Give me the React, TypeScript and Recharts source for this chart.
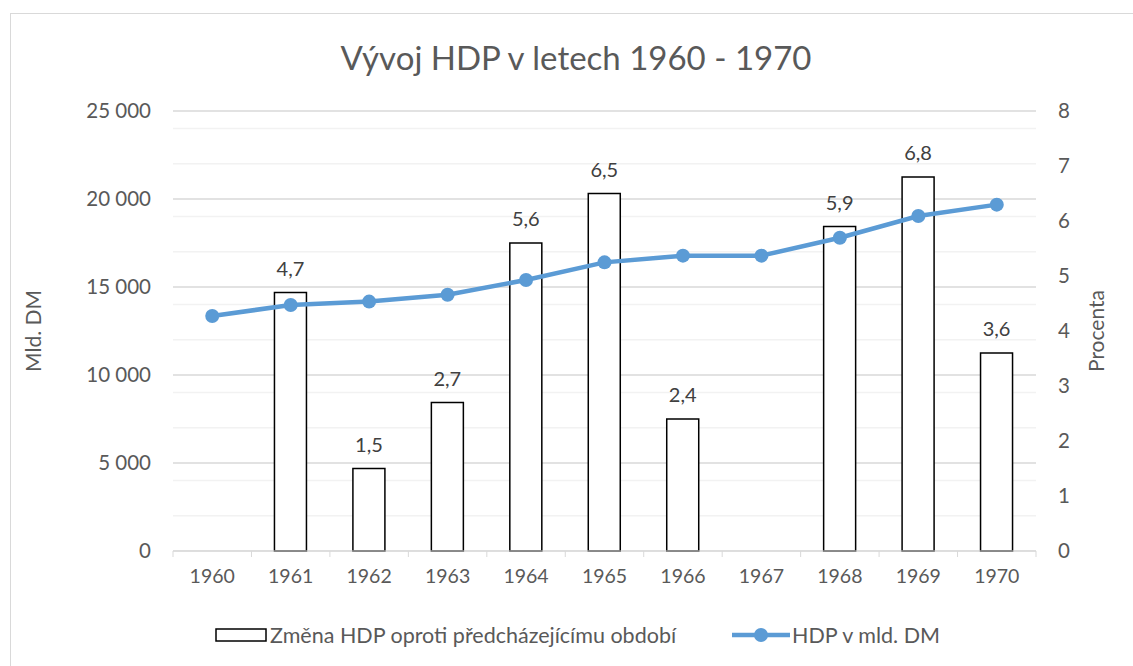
import React from 'react';
import {
  ComposedChart,
  Bar,
  Line,
  XAxis,
  YAxis,
  CartesianGrid,
  LabelList,
  Legend,
} from 'recharts';

const years = ['1960', '1961', '1962', '1963', '1964', '1965', '1966', '1967', '1968', '1969', '1970'];
// Změna HDP v procentech (pravá osa)
const change = [null, 4.7, 1.5, 2.7, 5.6, 6.5, 2.4, null, 5.9, 6.8, 3.6];
// HDP v mld. DM (levá osa)
const gdp = [13350, 13980, 14170, 14560, 15400, 16400, 16780, 16780, 17800, 19030, 19680];

const leftTicks = [0, 5000, 10000, 15000, 20000, 25000];
const rightTicks = [0, 1, 2, 3, 4, 5, 6, 7, 8];
const minorLines = [1000, 2000, 3000, 4000, 6000, 7000, 8000, 9000, 11000, 12000, 13000, 14000, 16000, 17000, 18000, 19000, 21000, 22000, 23000, 24000];
const majorLines = [0, 5000, 10000, 15000, 20000, 25000];

const data = years.map((y, i) => ({ year: y, change: change[i], gdp: gdp[i] }));

const FONT = 'Lato, "Noto Sans", sans-serif';
const TEXT = '#595959';
const BLUE = '#5B9BD5';

const fmtThousands = (v: number) =>
  String(v).replace(/\B(?=(\d{3})+(?!\d))/g, ' ');

const YearTick = (props: any) => {
  const { x, y, payload, index } = props;
  const off = payload.offset || 0;
  return (
    <g>
      <line x1={x - off} y1={y - 8} x2={x - off} y2={y - 2} stroke="#d9d9d9" />
      {index === years.length - 1 && (
        <line x1={x + off} y1={y - 8} x2={x + off} y2={y - 2} stroke="#d9d9d9" />
      )}
      <text x={x} y={y + 24} textAnchor="middle" fill={TEXT} fontSize={19.5} fontFamily={FONT}>
        {payload.value}
      </text>
    </g>
  );
};

const LegendContent = () => (
  <div
    style={{
      display: 'flex',
      justifyContent: 'center',
      alignItems: 'center',
      fontFamily: FONT,
      fontSize: 21.5,
      color: TEXT,
      paddingLeft: 22,
    }}
  >
    <svg width={52} height={14} style={{ marginRight: 3 }}>
      <rect x={1} y={1} width={50} height={12} fill="#fff" stroke="#000" strokeWidth={1.5} />
    </svg>
    <span>Změna HDP oproti předcházejícímu období</span>
    <svg width={58} height={16} style={{ marginLeft: 56, marginRight: 2 }}>
      <line x1={0} y1={8} x2={58} y2={8} stroke={BLUE} strokeWidth={4.5} />
      <circle cx={29} cy={8} r={7} fill={BLUE} />
    </svg>
    <span>HDP v mld. DM</span>
  </div>
);

export default function App() {
  return (
    <div style={{ position: 'absolute', left: 0, top: 0, width: 1133, height: 666, background: '#fff', overflow: 'hidden' }}>
      <div
        style={{
          position: 'absolute',
          left: 10,
          top: 13,
          width: 1140,
          height: 670,
          border: '1.5px solid #d9d9d9',
        }}
      />
      <div
        style={{
          position: 'absolute',
          left: 0,
          top: 37,
          width: 1152,
          textAlign: 'center',
          fontFamily: FONT,
          fontSize: 33,
          color: TEXT,
        }}
      >
        Vývoj HDP v letech 1960 - 1970
      </div>
      <div style={{ position: 'absolute', left: 0, top: 0 }}>
        <ComposedChart
          width={1133}
          height={666}
          data={data}
          margin={{ top: 111, right: 0, left: 0, bottom: 10 }}
        >
          <CartesianGrid
            yAxisId="left"
            vertical={false}
            horizontalValues={minorLines}
            stroke="#f2f2f2"
            strokeWidth={1.5}
          />
          <CartesianGrid
            yAxisId="left"
            vertical={false}
            horizontalValues={majorLines}
            stroke="#d9d9d9"
            strokeWidth={1.5}
          />
          <XAxis
            dataKey="year"
            height={79}
            stroke="#d9d9d9"
            tickLine={false}
            tick={<YearTick />}
            interval={0}
          />
          <YAxis
            yAxisId="left"
            orientation="left"
            width={173}
            domain={[0, 25000]}
            ticks={leftTicks}
            axisLine={false}
            tickLine={false}
            tickSize={0}
            tickMargin={22}
            tickFormatter={fmtThousands}
            tick={{ fill: TEXT, fontSize: 20.5, fontFamily: FONT }}
            label={{
              value: 'Mld. DM',
              angle: -90,
              position: 'insideLeft',
              offset: 34,
              style: { fill: TEXT, fontSize: 21, fontFamily: FONT, textAnchor: 'middle' },
            }}
          />
          <YAxis
            yAxisId="right"
            orientation="right"
            width={97}
            domain={[0, 8]}
            ticks={rightTicks}
            axisLine={false}
            tickLine={false}
            tickSize={0}
            tickMargin={22}
            tick={{ fill: TEXT, fontSize: 20.5, fontFamily: FONT }}
            label={{
              value: 'Procenta',
              angle: -90,
              position: 'insideRight',
              offset: 36,
              style: { fill: TEXT, fontSize: 21, fontFamily: FONT, textAnchor: 'middle' },
            }}
          />
          <Legend verticalAlign="bottom" content={<LegendContent />} wrapperStyle={{ bottom: 18 }} />
          <Bar
            yAxisId="right"
            dataKey="change"
            barSize={32}
            fill="#ffffff"
            stroke="#000000"
            strokeWidth={1.5}
            isAnimationActive={false}
          >
            <LabelList
              dataKey="change"
              position="top"
              offset={17}
              formatter={(v: any) => (v == null ? '' : String(v).replace('.', ','))}
              style={{ fill: '#404040', fontSize: 20, fontFamily: FONT }}
            />
          </Bar>
          <Line
            yAxisId="left"
            dataKey="gdp"
            stroke={BLUE}
            strokeWidth={4.5}
            dot={{ r: 7, fill: BLUE, stroke: BLUE, strokeWidth: 0 }}
            isAnimationActive={false}
          />
        </ComposedChart>
      </div>
    </div>
  );
}
